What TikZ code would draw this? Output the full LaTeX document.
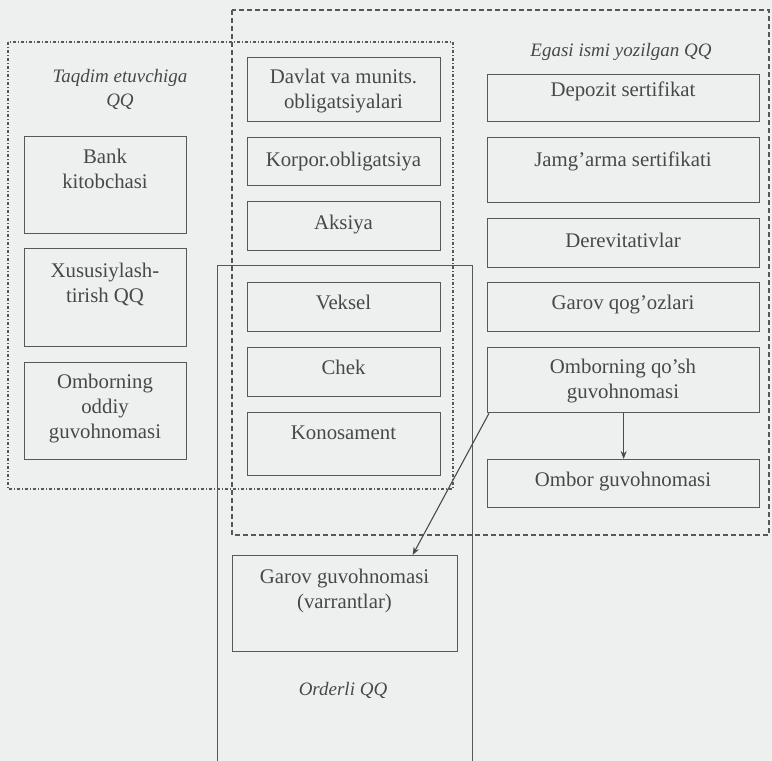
\documentclass[tikz,border=0pt]{standalone}
\usepackage{fontspec}
\setmainfont{Liberation Serif}
\usetikzlibrary{arrows.meta}
\definecolor{bg}{RGB}{238,240,240}
\definecolor{ink}{RGB}{88,88,88}
\definecolor{txt}{RGB}{72,72,72}
\tikzset{
 box/.style={draw=ink, line width=1.3pt, anchor=north west, inner sep=0pt},
 lbl/.style={anchor=base, align=center, text=txt, font=\fontsize{20.8}{25}\selectfont, inner sep=0pt},
 ttl/.style={anchor=base, align=center, text=txt, font=\fontsize{19}{24}\selectfont\itshape, inner sep=0pt},
 dashdotbox/.style={draw=ink, line width=1.2pt, dash pattern=on 3pt off 2pt on 1pt off 2pt},
 dashbox/.style={draw=ink, line width=1.1pt, dash pattern=on 5pt off 3pt},
 framebox/.style={draw=ink, line width=0.9pt},
 conn/.style={draw=ink!85!black, line width=1.1pt, -{Stealth[length=8pt,width=6pt]}},
}
% name, x1, y1, x2, y2, baseline y of last line, text
\newcommand\mybox[7]{%
 \node[box, minimum width=#4-#2, minimum height=#5-#3] (#1) at (#2,#3) {};
 \node[lbl] (#1t) at ({(#2+#4)/2},#6) {#7};
}
\begin{document}
\begin{tikzpicture}[x=1pt,y=-1pt]
\useasboundingbox (0,0) rectangle (772,761);
\fill[bg] (0,0) rectangle (772,761);

% group frames
\draw[dashdotbox] (8,42) rectangle (453,489);
\draw[dashbox] (232,10) rectangle (769,535);
\draw[framebox] (217,761) -- (217,265) -- (472,265) -- (472,761);

% titles
\node[ttl] (t1) at (120,106) {Taqdim etuvchiga\\QQ};
\node[ttl] (t2) at (621,56) {Egasi ismi yozilgan QQ};
\node[ttl] (t3) at (343,695) {Orderli QQ};

% left column
\mybox{bank}{24}{136}{186}{233}{188.5}{Bank\\kitobchasi}
\mybox{xus}{24}{248}{186}{346}{302}{Xususiylash-\\tirish QQ}
\mybox{odd}{24}{362}{186}{459}{438}{Omborning\\oddiy\\guvohnomasi}

% middle column
\mybox{dav}{247}{57}{440}{121}{108}{Davlat va munits.\\obligatsiyalari}
\mybox{kor}{247}{137}{440}{185}{166}{Korpor.obligatsiya}
\mybox{aks}{247}{201}{440}{250}{229}{Aksiya}
\mybox{vek}{247}{282}{440}{331}{309}{Veksel}
\mybox{chek}{247}{347}{440}{396}{374}{Chek}
\mybox{kon}{247}{412}{440}{475}{439}{Konosament}
\mybox{garov}{232}{555}{457}{651}{608.5}{Garov guvohnomasi\\(varrantlar)}

% right column
\mybox{dep}{487}{74}{759}{121}{96}{Depozit sertifikat}
\mybox{jam}{487}{137}{759}{202}{166}{Jamg'arma sertifikati}
\mybox{der}{487}{218}{759}{267}{247}{Derevitativlar}
\mybox{gq}{487}{282}{759}{331}{309}{Garov qog'ozlari}
\mybox{qosh}{487}{347}{759}{412}{398.5}{Omborning qo'sh\\guvohnomasi}
\mybox{omb}{487}{459}{759}{507}{486}{Ombor guvohnomasi}

% connectors
\draw[conn] (qosh.south) -- (omb.north);
\draw[conn] ([xshift=2pt]qosh.south west) -- ([xshift=67.5pt]garov.north);
\end{tikzpicture}
\end{document}
